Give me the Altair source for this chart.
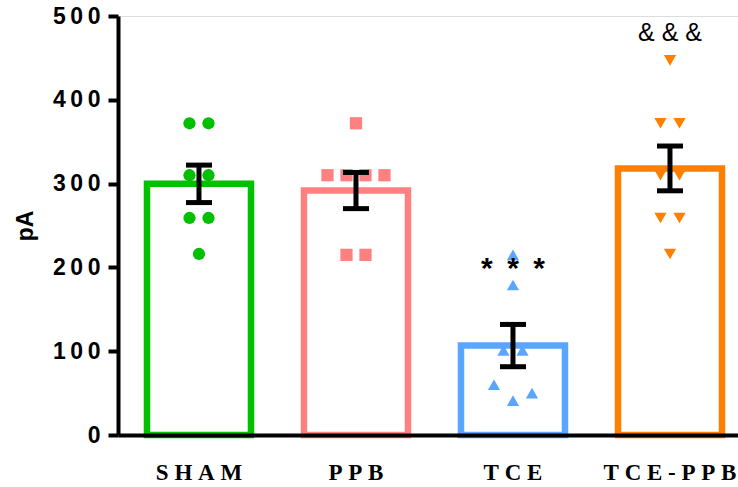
import altair as alt
import pandas as pd

# Groups, their colours and marker shapes
groups = ["SHAM", "PPB", "TCE", "TCE-PPB"]
colors = ["#00C000", "#FF8080", "#5AA6FF", "#FF8000"]
shapes = ["circle", "square", "triangle-up", "triangle-down"]

# Individual measurements (pA) per group
sham = [372, 372, 310, 310, 259, 259, 216]
ppb = [372, 310, 310, 310, 310, 215, 215]
tce = [215, 179, 101, 101, 60, 41, 50]
tce_ppb = [447, 372, 372, 310, 310, 259, 259, 216]

# Significance marks and the height at which they are written
marks = ["", "", "***", "&&&"]
mark_levels = [0, 0, 198, 480]

y_ticks = [0, 100, 200, 300, 400, 500]

NBSP = "\u00a0"


def spread(values, close=25, gap=19):
    """Horizontal pixel offsets so that neighbouring, similar values sit side by side."""
    offs, i, n = [], 0, len(values)
    while i < n:
        j = i
        while j + 1 < n and abs(values[j + 1] - values[j]) <= close:
            j += 1
        k = j - i + 1
        offs += [(m - (k - 1) / 2) * gap for m in range(k)]
        i = j + 1
    return offs


rows = []
for g, vals in zip(groups, [sham, ppb, tce, tce_ppb]):
    for v, o in zip(vals, spread(vals)):
        rows.append({"group": g, "value": v, "off": o})
points = pd.DataFrame(rows)

stats = points.groupby("group", sort=False)["value"].agg(["mean", "std", "count"]).reset_index()
stats["sem"] = stats["std"] / stats["count"] ** 0.5
stats["lo"] = stats["mean"] - stats["sem"]
stats["hi"] = stats["mean"] + stats["sem"]
caps = pd.concat([
    stats[["group"]].assign(y=stats["lo"]),
    stats[["group"]].assign(y=stats["hi"]),
])

ann = pd.DataFrame({
    "group": groups,
    "text": [NBSP.join(m) if m == "&&&" else (NBSP + "\u2009").join(m) for m in marks],
    "y": mark_levels,
    "kind": ["amp" if m == "&&&" else "star" for m in marks],
})
ann = ann[ann["text"] != ""]

W, H = 620, 419
BAR_W = 104
STEP = 157
p_inner = 1 - BAR_W / STEP
p_outer = (W / STEP - 4 + p_inner) / 2

x_scale = alt.Scale(domain=groups, paddingInner=p_inner, paddingOuter=p_outer, align=0.644)
y_scale = alt.Scale(domain=[0, 500], nice=False)
col_scale = alt.Scale(domain=groups, range=colors)
shape_scale = alt.Scale(domain=groups, range=shapes)

x_axis = alt.Axis(
    title=None, ticks=False, tickSize=0, labelAngle=0, grid=False,
    labelFont="Liberation Serif", labelFontWeight="bold", labelFontSize=23,
    labelColor="black", labelPadding=26,
    labelExpr="join(split(datum.label, ''), '\u2005')",
    domainColor="black", domainWidth=4, zindex=1,
)
y_axis = alt.Axis(
    title="pA", values=y_ticks, grid=False,
    tickSize=10, tickWidth=4, tickColor="black",
    domainColor="black", domainWidth=4,
    labelFont="Liberation Sans", labelFontWeight="bold", labelFontSize=23,
    labelColor="black", labelPadding=8,
    labelExpr="join(split(datum.label, ''), '\u2009')",
    titleFont="Liberation Sans", titleFontWeight="bold", titleFontSize=23,
    titleColor="black", titleAngle=-90, titleX=-86, titleY=H / 2,
    titleBaseline="alphabetic", titleAlign="center",
)

x_enc = alt.X("group:N", scale=x_scale, axis=x_axis, sort=groups)

bars = alt.Chart(stats).mark_bar(fill="white", strokeWidth=6.5, width=BAR_W).encode(
    x=x_enc,
    y=alt.Y("mean:Q", scale=y_scale, axis=y_axis),
    stroke=alt.Stroke("group:N", scale=col_scale, legend=None),
)

dots = alt.Chart(points).mark_point(filled=True, opacity=1, size=150).encode(
    x=x_enc,
    xOffset=alt.XOffset("off:Q", scale=alt.Scale(domain=[-BAR_W / 2, BAR_W / 2], range=[0, BAR_W])),
    y=alt.Y("value:Q", scale=y_scale),
    color=alt.Color("group:N", scale=col_scale, legend=None),
    shape=alt.Shape("group:N", scale=shape_scale, legend=None),
)

whisker = alt.Chart(stats).mark_rule(color="black", strokeWidth=5).encode(
    x=x_enc,
    y=alt.Y("lo:Q", scale=y_scale),
    y2="hi:Q",
)

cap_ticks = alt.Chart(caps).mark_tick(color="black", thickness=5, size=26, opacity=1).encode(
    x=x_enc,
    y=alt.Y("y:Q", scale=y_scale),
)

stars = alt.Chart(ann).transform_filter("datum.kind == 'star'").mark_text(
    font="Liberation Sans", fontWeight="bold", fontSize=30, color="black", baseline="middle"
).encode(x=x_enc, y=alt.Y("y:Q", scale=y_scale), text="text:N")

amps = alt.Chart(ann).transform_filter("datum.kind == 'amp'").mark_text(
    font="Liberation Sans", fontSize=25, color="black", baseline="middle"
).encode(x=x_enc, y=alt.Y("y:Q", scale=y_scale), text="text:N")

chart = alt.layer(bars, dots, whisker, cap_ticks, stars, amps).properties(
    width=W, height=H,
    autosize=alt.AutoSizeParams(type="none"),
    padding={"left": 118, "top": 16, "right": 0, "bottom": 52},
).configure_view(stroke=None).configure(background="white")

chart.save("out.html", embed_options={"renderer": "svg", "actions": False})
